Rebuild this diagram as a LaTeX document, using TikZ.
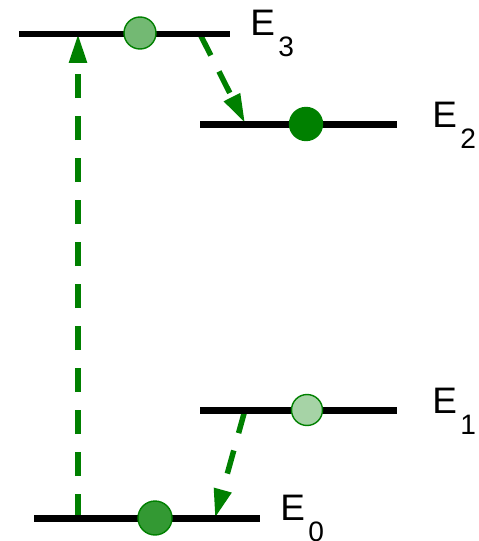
\documentclass[tikz,border=0pt]{standalone}
\usepackage{fontspec}
\setmainfont{Liberation Sans}
\usetikzlibrary{arrows.meta}
\definecolor{dkgreen}{HTML}{008000}
\newcommand\lvlsub[1]{\hspace{2pt}\raisebox{-12pt}{\fontsize{16}{16}\selectfont#1}}

\begin{document}
\begin{tikzpicture}[x=.02cm,y=-.02cm,
    lvl/.style={line width=.14cm},
    elec/.style={circle,draw=dkgreen,line width=.8pt,inner sep=0pt,minimum size=.64cm},
    trans/.style={dkgreen,line width=.11cm,dash pattern=on .48cm off .36cm,-{Triangle[length=.58cm,width=.34cm]}},
    lab/.style={anchor=base west,inner sep=0pt,font=\fontsize{21}{21}\selectfont}]
  \useasboundingbox (0,0) rectangle (479,541);

  % levels
  \coordinate (e3l) at (19,34);  \coordinate (e3r) at (230,34);
  \coordinate (e2l) at (200,124); \coordinate (e2r) at (397,124);
  \coordinate (e1l) at (200,410); \coordinate (e1r) at (397,410);
  \coordinate (e0l) at (34,518);  \coordinate (e0r) at (260,518);

  % transition ends
  \coordinate (up0) at (78,518);  \coordinate (up3) at (78,34);
  \coordinate (dn3) at (200,34);  \coordinate (dn2) at (245,123);
  \coordinate (dn1) at (245,410); \coordinate (dn0) at (215,518);

  \draw[trans] (up0) -- (up3);
  \draw[trans] (dn3) -- (dn2);
  \draw[trans] (dn1) -- (dn0);

  \draw[lvl] (e3l) -- (e3r);
  \draw[lvl] (e2l) -- (e2r);
  \draw[lvl] (e1l) -- (e1r);
  \draw[lvl] (e0l) -- (e0r);

  % electrons
  \node[elec,fill=dkgreen!55!white] (c3) at (140,33) {};
  \node[elec,fill=dkgreen,minimum size=.66cm] (c2) at (306,124) {};
  \node[elec,fill=dkgreen!35!white,minimum size=.62cm] (c1) at (307,410) {};
  \node[elec,fill=dkgreen!80!white,minimum size=.68cm] (c0) at (155,518) {};

  \node[lab] (l3) at (250,35) {E\lvlsub{3}};
  \node[lab] (l2) at (432,127) {E\lvlsub{2}};
  \node[lab] (l1) at (432,413) {E\lvlsub{1}};
  \node[lab] (l0) at (280,520) {E\lvlsub{0}};
\end{tikzpicture}
\end{document}
